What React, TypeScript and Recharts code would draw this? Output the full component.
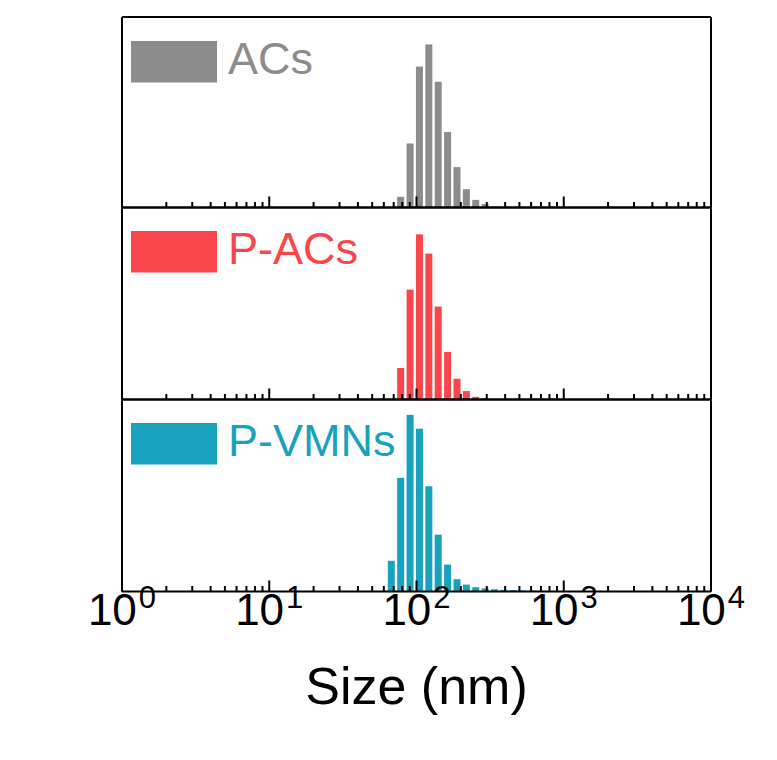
import React from 'react';
import { BarChart, Bar, XAxis, YAxis, Legend } from 'recharts';

// Size bins (nm) – log spaced DLS bins
const sizeBins = [67.6, 78.3, 90.7, 105.0, 121.6, 140.8, 163.1, 188.9, 218.7, 253.3, 293.4, 339.8, 393.5, 455.7, 527.8, 611.2];
// Intensity (%) per bin
const acsValues = [0, 1.4, 8.4, 18.5, 21.4, 16.5, 9.9, 5.3, 2.4, 1.0, 0.45, 0.15, 0, 0, 0, 0];
const pacsValues = [0, 4.1, 14.3, 21.5, 19.0, 12.1, 6.2, 2.7, 1.1, 0.35, 0.15, 0, 0, 0, 0, 0];
const pvmnsValues = [4.0, 14.8, 23.0, 21.2, 13.7, 7.4, 3.5, 1.6, 0.9, 0.56, 0.4, 0.3, 0.22, 0.17, 0.13, 0.13];

const seriesNames = ['ACs', 'P-ACs', 'P-VMNs'];
const seriesColors = ['#8c8c8c', '#f9464b', '#17a2bd'];
const majorTicks = [1, 10, 100, 1000, 10000];
const minorMultipliers = [2, 3, 4, 5, 6, 7, 8, 9];

const allTicks: number[] = [];
majorTicks.forEach((m, i) => {
  allTicks.push(m);
  if (i < majorTicks.length - 1) minorMultipliers.forEach((k) => allTicks.push(m * k));
});

const W = 777;
const H = 760;
const PLOT_LEFT = 122;
const PLOT_RIGHT = 711;
const panelBounds = [
  [17, 207.5],
  [207.5, 399.5],
  [399.5, 591.5],
];
const FONT = '"Liberation Sans", Arial, sans-serif';

const makeData = (vals: number[]) => sizeBins.map((s, i) => ({ size: s, value: vals[i] }));
const panelData = [makeData(acsValues), makeData(pacsValues), makeData(pvmnsValues)];

const CenteredBar = (props: any) => {
  const { x, y, width, height, fill } = props;
  if (!height || height <= 0) return null;
  const cx = x + width / 2;
  const bw = 7;
  return <rect x={cx - bw / 2} y={y} width={bw} height={height} fill={fill} />;
};

const isMajor = (v: number) => Math.abs(Math.log10(v) - Math.round(Math.log10(v))) < 1e-9;

const AxisTick = (props: any) => {
  const { x, y, payload, showLabel } = props;
  const v = payload.value;
  const major = isMajor(v);
  const len = major ? 11 : 5.5;
  return (
    <g>
      <line x1={x} x2={x} y1={y} y2={y - len} stroke="#000" strokeWidth={2} />
      {showLabel && major ? (
        <text x={x} y={y + 33.5} textAnchor="middle" fontFamily={FONT} fontSize={44} fill="#000">
          10
          <tspan dx={2} dy={-17} fontSize={31}>
            {String(Math.round(Math.log10(v)))}
          </tspan>
        </text>
      ) : null}
    </g>
  );
};

const LegendBox = ({ name, color }: { name: string; color: string }) => (
  <svg width={320} height={60} style={{ display: 'block', overflow: 'visible' }}>
    <rect x={0} y={0} width={86} height={41.5} fill={color} />
    <text x={97} y={32.5} fontFamily={FONT} fontSize={45} fill={color}>
      {name}
    </text>
  </svg>
);

const Panel = ({ idx }: { idx: number }) => {
  const [top, bottom] = panelBounds[idx];
  const isLast = idx === panelBounds.length - 1;
  const xAxisHeight = isLast ? H - bottom : 1;
  return (
    <div style={{ position: 'absolute', left: 0, top: 0 }}>
      <BarChart
        width={W}
        height={H}
        data={panelData[idx]}
        margin={{ top: top - 1, bottom: isLast ? 0 : H - bottom - 1, left: PLOT_LEFT - 1, right: W - PLOT_RIGHT - 1 }}
        barSize={7}
      >
        <XAxis
          dataKey="size"
          type="number"
          scale="log"
          domain={[1, 10000]}
          allowDataOverflow
          ticks={allTicks}
          interval={0}
          height={xAxisHeight}
          tickSize={0}
          tickMargin={0}
          tickLine={false}
          axisLine={{ stroke: '#000', strokeWidth: 2 }}
          tick={(p: any) => <AxisTick {...p} showLabel={isLast} />}
          label={
            isLast
              ? (lp: any) => {
                  const vb = lp.viewBox || {};
                  return (
                    <text
                      x={(vb.x ?? PLOT_LEFT) + (vb.width ?? PLOT_RIGHT - PLOT_LEFT) / 2}
                      y={(vb.y ?? bottom) + 112}
                      textAnchor="middle"
                      fontFamily={FONT}
                      fontSize={52}
                      fill="#000"
                    >
                      Size (nm)
                    </text>
                  );
                }
              : undefined
          }
        />
        <XAxis
          xAxisId="top"
          orientation="top"
          type="number"
          scale="log"
          domain={[1, 10000]}
          allowDataOverflow
          height={1}
          tick={false}
          tickLine={false}
          axisLine={{ stroke: '#000', strokeWidth: 2 }}
        />
        <YAxis
          type="number"
          domain={[0, 25]}
          allowDataOverflow
          width={1}
          tick={false}
          tickLine={false}
          axisLine={{ stroke: '#000', strokeWidth: 2 }}
        />
        <YAxis
          yAxisId="r"
          orientation="right"
          type="number"
          domain={[0, 25]}
          width={1}
          tick={false}
          tickLine={false}
          axisLine={{ stroke: '#000', strokeWidth: 2 }}
        />
        <Legend
          layout="horizontal"
          verticalAlign="middle"
          align="center"
          wrapperStyle={{ position: 'absolute', left: 131, top: top + 23.7, width: 320, height: 60 }}
          content={() => <LegendBox name={seriesNames[idx]} color={seriesColors[idx]} />}
        />
        <Bar
          dataKey="value"
          name={seriesNames[idx]}
          fill={seriesColors[idx]}
          shape={CenteredBar}
          isAnimationActive={false}
        />
      </BarChart>
    </div>
  );
};

export default function App() {
  return (
    <div style={{ position: 'absolute', left: 0, top: 0, width: W, height: H, background: '#fff' }}>
      {panelBounds.map((_, i) => (
        <Panel key={i} idx={i} />
      ))}
    </div>
  );
}
